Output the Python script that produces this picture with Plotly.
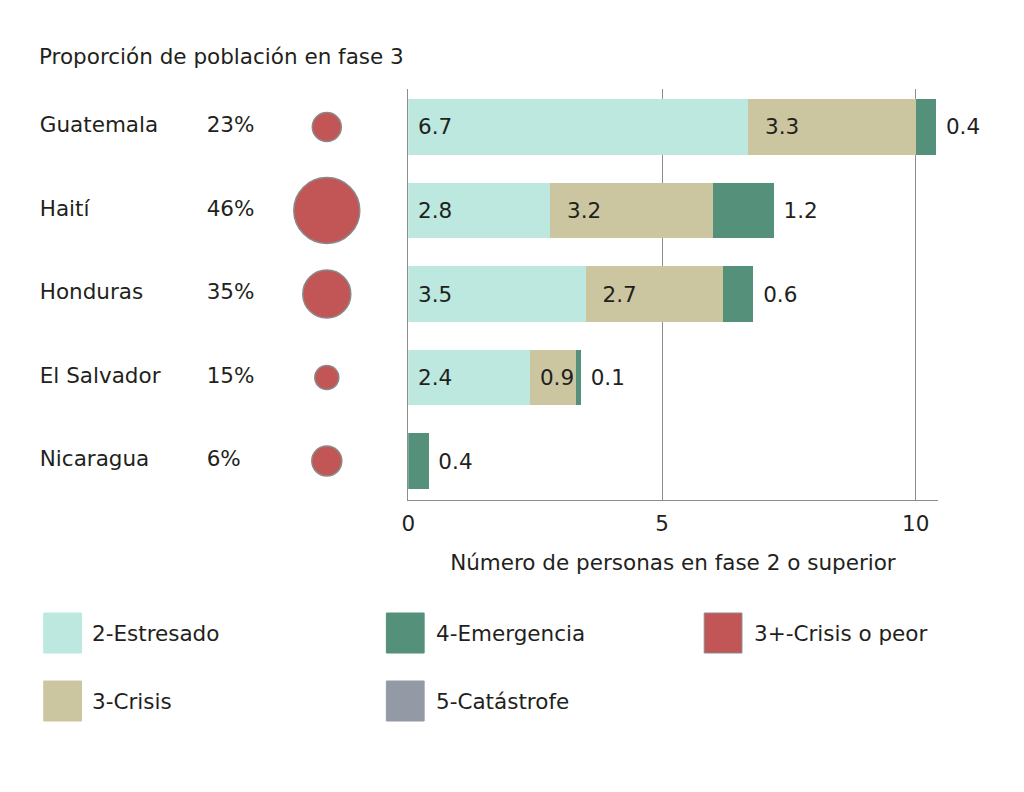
import plotly.graph_objects as go

countries = ["Guatemala", "Haití", "Honduras", "El Salvador", "Nicaragua"]
pct_labels = ["23%", "46%", "35%", "15%", "6%"]
stressed = [6.7, 2.8, 3.5, 2.4, 0]
crisis = [3.3, 3.2, 2.7, 0.9, 0]
emergency = [0.4, 1.2, 0.6, 0.1, 0.4]
catastrophe = [0, 0, 0, 0, 0]
bubble_diam = [29, 66, 48, 24, 30]
x_ticks = [0, 5, 10]

title_text = "Proporción de población en fase 3"
x_title = "Número de personas en fase 2 o superior"
legend_items = [
    ("2-Estresado", "#BCE8DF"),
    ("3-Crisis", "#CBC6A0"),
    ("4-Emergencia", "#54907A"),
    ("5-Catástrofe", "#939AA6"),
    ("3+-Crisis o peor", "#C25656"),
]

W, H = 1024, 792
DX = -3  # horizontal fine correction in pixels
FONT = "Verdana, DejaVu Sans, sans-serif"
FS = 21.5
TXT = "#231F20"
C_STR, C_CRI, C_EME, C_CAT, C_RED = [c for _, c in legend_items]
NB = "\u00a0"


def px(x):
    return (x + DX) / W


def py(y):
    return 1 - y / H


def lbl(vals, pre, short_pre=None):
    out = []
    for v in vals:
        if v == 0:
            out.append("")
        else:
            p = short_pre if (short_pre is not None and v < 1) else pre
            out.append(p + f"{v:g}")
    return out


tf = dict(family=FONT, size=FS, color=TXT)

fig = go.Figure()
fig.add_trace(go.Bar(
    y=countries, x=stressed, orientation="h", marker=dict(color=C_STR, line=dict(width=0)),
    text=lbl(stressed, NB), textposition="inside", insidetextanchor="start", textangle=0,
    textfont=tf, showlegend=False, xaxis="x", yaxis="y", cliponaxis=False))
fig.add_trace(go.Bar(
    y=countries, x=crisis, orientation="h", marker=dict(color=C_CRI, line=dict(width=0)),
    text=lbl(crisis, NB * 2, NB), textposition="inside", insidetextanchor="start", textangle=0,
    textfont=tf, showlegend=False, xaxis="x", yaxis="y", cliponaxis=False))
fig.add_trace(go.Bar(
    y=countries, x=emergency, orientation="h", marker=dict(color=C_EME, line=dict(width=0)),
    text=lbl(emergency, NB), textposition="outside", textangle=0,
    textfont=tf, showlegend=False, xaxis="x", yaxis="y", cliponaxis=False))
fig.add_trace(go.Bar(
    y=countries, x=catastrophe, orientation="h", marker=dict(color=C_CAT, line=dict(width=0)),
    showlegend=False, xaxis="x", yaxis="y"))

# left panel: names, percentages, bubbles
fig.add_trace(go.Scatter(
    x=[36] * len(countries), y=countries, mode="text", text=countries,
    textposition="middle right", textfont=tf,
    showlegend=False, xaxis="x2", yaxis="y", cliponaxis=False))
fig.add_trace(go.Scatter(
    x=[204] * len(countries), y=countries, mode="text", text=pct_labels,
    textposition="middle right", textfont=tf,
    showlegend=False, xaxis="x2", yaxis="y", cliponaxis=False))
fig.add_trace(go.Scatter(
    x=[325] * len(countries), y=countries, mode="markers",
    marker=dict(size=bubble_diam, color=C_RED, opacity=1, line=dict(color="#8A8A8A", width=1.5)),
    showlegend=False, xaxis="x2", yaxis="y", cliponaxis=False))

shapes = []
annotations = [dict(text=title_text, x=px(33), y=py(56), xref="paper", yref="paper",
                    xanchor="left", yanchor="middle", showarrow=False, font=tf)]

# manual legend: (swatch left, text left, centre y)
leg_pos = {
    "2-Estresado": (40, 87, 633),
    "3-Crisis": (40, 87, 701),
    "4-Emergencia": (385, 433, 633),
    "5-Catástrofe": (385, 433, 701),
    "3+-Crisis o peor": (705, 753, 633),
}
for name, col in legend_items:
    sx, tx, ly = leg_pos[name]
    shapes.append(dict(type="rect", xref="paper", yref="paper",
                       x0=px(sx), x1=px(sx + 38), y0=py(ly - 20), y1=py(ly + 20),
                       fillcolor=col,
                       line=dict(color="#8A8A8A" if name.startswith("3+") else col, width=1)))
    annotations.append(dict(text=name, x=px(tx), y=py(ly), xref="paper", yref="paper",
                            xanchor="left", yanchor="middle", showarrow=False, font=tf))

fig.update_layout(
    width=W, height=H, margin=dict(l=0, r=0, t=0, b=0),
    paper_bgcolor="white", plot_bgcolor="white",
    barmode="stack", bargap=0.33,
    uniformtext=dict(minsize=FS, mode="show"),
    font=tf,
    xaxis=dict(domain=[px(407), px(940)], range=[0, 10.43], tickvals=x_ticks,
               showgrid=True, gridcolor="#8C8C8C", gridwidth=1,
               showline=True, linecolor="#8C8C8C", linewidth=1, zeroline=False,
               ticks="", ticklabelstandoff=4, tickfont=tf,
               title=dict(text=x_title, standoff=20, font=tf),
               anchor="y", fixedrange=True),
    xaxis2=dict(domain=[0, 400 / W], range=[-DX, 400 - DX], visible=False, anchor="y",
                fixedrange=True),
    yaxis=dict(domain=[py(500), py(89)], categoryorder="array",
               categoryarray=countries, range=[4.467, -0.455],
               showticklabels=False, showgrid=False, zeroline=False,
               showline=True, linecolor="#8C8C8C", linewidth=1, ticks="",
               anchor="x", fixedrange=True),
    shapes=shapes, annotations=annotations, showlegend=False,
)

fig.write_html("out.html", config={"displayModeBar": False},
               post_script="document.body.style.margin='0';document.body.style.overflow='hidden';")
